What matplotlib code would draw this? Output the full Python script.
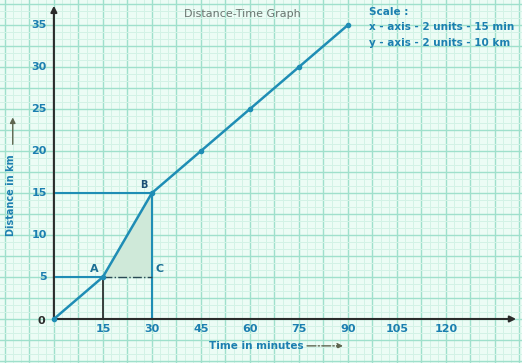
import matplotlib.pyplot as plt
import numpy as np

# data
time_min = [0, 15, 30, 45, 60, 75, 90]
dist_km = [0, 5, 15, 20, 25, 30, 35]
x_ticks = [15, 30, 45, 60, 75, 90, 105, 120]
y_ticks = [5, 10, 15, 20, 25, 30, 35]
tri_x = [15, 30, 30]
tri_y = [5, 15, 5]
scale_lines = ['Scale :', 'x - axis - 2 units - 15 min', 'y - axis - 2 units - 10 km']

blue = '#1f8db5'
lab = '#1b7fb0'
olive = '#5f6650'

fig = plt.figure(figsize=(5.22, 3.63), dpi=100)
fig.patch.set_facecolor('#ecfcf5')
ax = fig.add_axes([0, 0, 1, 1])
ax.set_facecolor('#ecfcf5')
ax.set_xlim(-16.5, 143.3)
ax.set_ylim(-5.24, 37.98)
for s in ax.spines.values():
    s.set_visible(False)
ax.set_xticks([])
ax.set_yticks([])

# graph paper
for x in np.arange(-15, 145, 2.5):
    major = abs(x / 7.5 - round(x / 7.5)) < 1e-6
    ax.axvline(x, color='#9fe0cc' if major else '#d3f2e6', lw=1.0 if major else 0.7, zorder=0)
for y in np.arange(-5, 38.5, 2.5 / 3):
    major = abs(y / 2.5 - round(y / 2.5)) < 1e-6
    ax.axhline(y, color='#9fe0cc' if major else '#d3f2e6', lw=1.0 if major else 0.7, zorder=0)

# triangle ABC
ax.fill(tri_x, tri_y, color='#cfe9d9', zorder=1)

# guide lines
ax.plot([0, 30], [15, 15], color=blue, lw=1.5, zorder=2)
ax.plot([30, 30], [0, 15], color=blue, lw=1.5, zorder=2)
ax.plot([0, 15], [5, 5], color=blue, lw=1.5, zorder=2)
ax.plot([15, 30], [5, 5], color='#2a4a55', lw=1.0, ls='-.', zorder=2)
ax.plot([15, 15], [0, 5], color='#222222', lw=1.2, zorder=2)

# axes with arrows
ax.annotate('', xy=(0, 37.3), xytext=(0, 0),
            arrowprops=dict(arrowstyle='-|>', color='#2b2b2b', lw=1.5,
                            mutation_scale=9, shrinkA=0, shrinkB=0), zorder=3)
ax.annotate('', xy=(141.5, 0), xytext=(0, 0),
            arrowprops=dict(arrowstyle='-|>', color='#2b2b2b', lw=1.5,
                            mutation_scale=9, shrinkA=0, shrinkB=0), zorder=3)

# distance-time line
ax.plot(time_min, dist_km, color=blue, lw=1.8, marker='o', ms=3, zorder=4)

# tick labels
for t in x_ticks:
    ax.text(t, -0.55, str(t), color=lab, fontsize=8, fontweight='bold',
            ha='center', va='top')
for v in y_ticks:
    ax.text(-2.2, v, str(v), color=lab, fontsize=8, fontweight='bold',
            ha='right', va='center')
ax.text(-2.6, -0.2, '0', color='#2b2b2b', fontsize=8, fontweight='bold',
        ha='right', va='center')

# point labels
ax.text(12.5, 6.0, 'A', color='#1b6f95', fontsize=8, fontweight='bold', ha='center', va='center')
ax.text(27.4, 16.0, 'B', color='#1b4f75', fontsize=7, fontweight='bold', ha='center', va='center')
ax.text(32.3, 6.0, 'C', color='#1b6f95', fontsize=8, fontweight='bold', ha='center', va='center')

# titles and axis labels
ax.text(39.8, 36.3, 'Distance-Time Graph', color='#6a7570', fontsize=8,
        ha='left', va='center')
for i, line in enumerate(scale_lines):
    ax.text(96.5, 36.6 - i * 1.85, line, color=lab, fontsize=7.5,
            fontweight='bold', ha='left', va='center')

ax.text(-13.0, 14.7, 'Distance in km', color=lab, fontsize=7, fontweight='bold',
        rotation=90, ha='center', va='center')
ax.annotate('', xy=(-12.6, 24.0), xytext=(-12.6, 20.8),
            arrowprops=dict(arrowstyle='-|>', color=olive, lw=1.0,
                            mutation_scale=8, shrinkA=0, shrinkB=0))
ax.text(47.5, -3.2, 'Time in minutes', color=lab, fontsize=7.5, fontweight='bold',
        ha='left', va='center')
ax.annotate('', xy=(88.5, -3.2), xytext=(77.5, -3.2),
            arrowprops=dict(arrowstyle='-|>', color=olive, lw=1.0, ls='-.',
                            mutation_scale=8, shrinkA=0, shrinkB=0))

fig.savefig('out.png', dpi=100, facecolor=fig.get_facecolor())
